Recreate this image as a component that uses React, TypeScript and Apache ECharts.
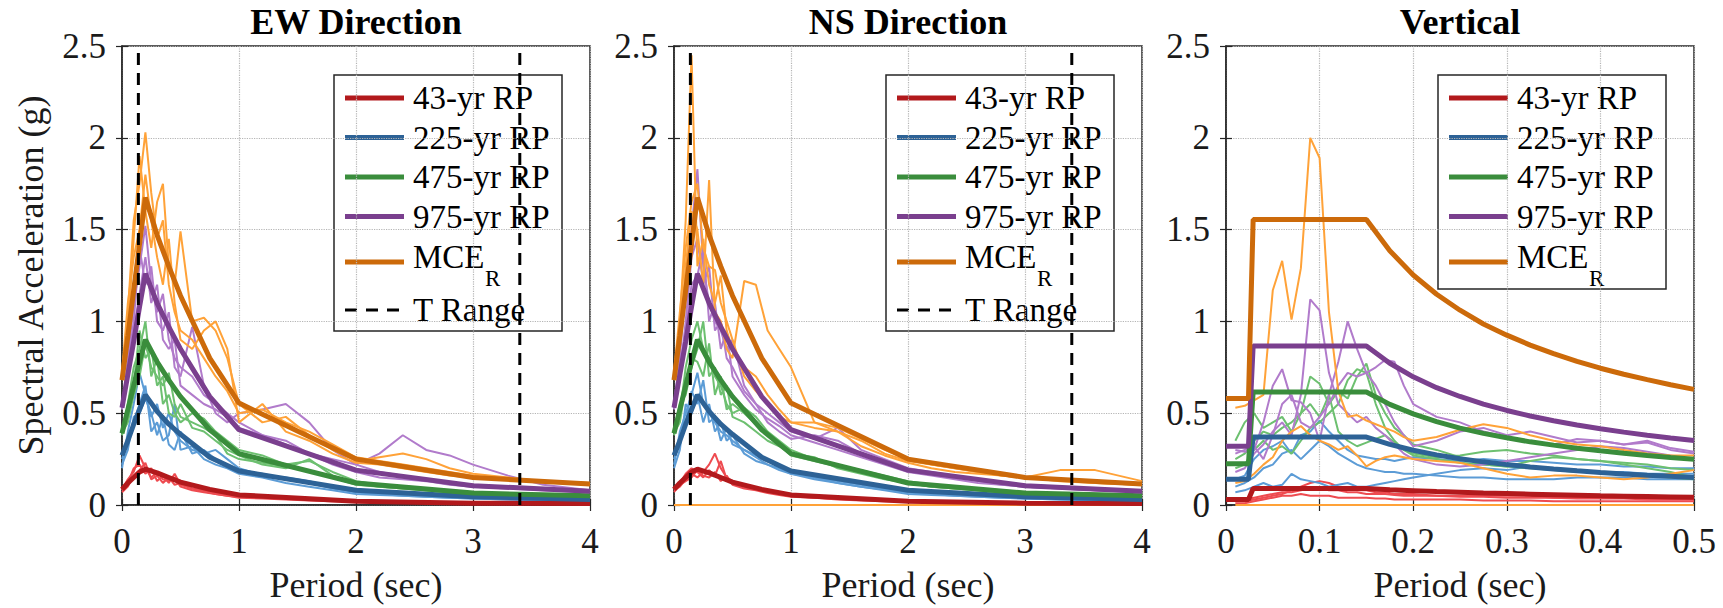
import React, { useEffect, useRef } from 'react';
import * as echarts from 'echarts';

// ---------------- data ----------------
const LEVEL_NAMES = ['43-yr RP', '225-yr RP', '475-yr RP', '975-yr RP', 'MCE_R'];
const PANEL_TITLES = ['EW Direction', 'NS Direction', 'Vertical'];
const T_RANGE = [0.14, 3.4];

// Target spectra, horizontal (EW and NS share the same targets)
const H_TARGET_T = [0, 0.05, 0.1, 0.15, 0.2, 0.3, 0.4, 0.5, 0.75, 1.0, 2.0, 3.0, 4.0];
const H_TARGET_43 = [0.085, 0.12, 0.15, 0.18, 0.195, 0.175, 0.15, 0.125, 0.085, 0.055, 0.02, 0.01, 0.008];
const H_TARGET_225 = [0.27, 0.35, 0.44, 0.52, 0.6, 0.51, 0.44, 0.385, 0.26, 0.185, 0.08, 0.045, 0.03];
const H_TARGET_475 = [0.39, 0.52, 0.65, 0.78, 0.9, 0.78, 0.68, 0.59, 0.41, 0.28, 0.12, 0.065, 0.05];
const H_TARGET_975 = [0.53, 0.71, 0.89, 1.08, 1.26, 1.1, 0.97, 0.85, 0.59, 0.41, 0.19, 0.105, 0.075];
const H_TARGET_MCE = [0.68, 0.92, 1.17, 1.42, 1.675, 1.47, 1.3, 1.14, 0.8, 0.555, 0.25, 0.15, 0.115];

// Target spectra, vertical
const V_TARGET_T = [0, 0.024, 0.029, 0.15, 0.175, 0.2, 0.225, 0.25, 0.275, 0.3, 0.325, 0.35, 0.375, 0.4, 0.425, 0.45, 0.475, 0.5];
const V_TARGET_43 = [0.03, 0.03, 0.09, 0.09, 0.083, 0.078, 0.073, 0.069, 0.065, 0.062, 0.059, 0.056, 0.053, 0.05, 0.048, 0.046, 0.044, 0.042];
const V_TARGET_225 = [0.14, 0.14, 0.37, 0.37, 0.33, 0.298, 0.273, 0.252, 0.235, 0.22, 0.207, 0.196, 0.186, 0.177, 0.169, 0.162, 0.156, 0.15];
const V_TARGET_475 = [0.225, 0.225, 0.615, 0.615, 0.548, 0.496, 0.454, 0.419, 0.39, 0.366, 0.344, 0.326, 0.309, 0.295, 0.282, 0.27, 0.259, 0.249];
const V_TARGET_975 = [0.32, 0.32, 0.866, 0.866, 0.772, 0.698, 0.639, 0.591, 0.549, 0.515, 0.485, 0.459, 0.436, 0.415, 0.397, 0.38, 0.365, 0.351];
const V_TARGET_MCE = [0.58, 0.58, 1.555, 1.555, 1.385, 1.253, 1.148, 1.061, 0.986, 0.925, 0.871, 0.824, 0.782, 0.745, 0.712, 0.683, 0.655, 0.63];

// Record periods
const H_REC_T = [0, 0.05, 0.1, 0.15, 0.2, 0.25, 0.3, 0.35, 0.4, 0.45, 0.5, 0.6, 0.7, 0.8, 0.9, 1.0, 1.2, 1.4, 1.6, 1.8, 2.0, 2.2, 2.4, 2.6, 2.8, 3.0, 3.3, 3.6, 4.0];
const V_REC_T = [0.01, 0.02, 0.03, 0.04, 0.05, 0.06, 0.07, 0.08, 0.09, 0.1, 0.11, 0.12, 0.13, 0.14, 0.15, 0.16, 0.17, 0.18, 0.19, 0.2, 0.225, 0.25, 0.275, 0.3, 0.325, 0.35, 0.375, 0.4, 0.425, 0.45, 0.475, 0.5];

// EW records
const EW_REC_43 = [
  [0.08, 0.14, 0.18, 0.27, 0.2, 0.15, 0.18, 0.14, 0.13, 0.15, 0.1, 0.08, 0.07, 0.06, 0.05, 0.045, 0.04, 0.035, 0.03, 0.025, 0.02, 0.018, 0.015, 0.013, 0.012, 0.01, 0.01, 0.008, 0.008],
  [0.09, 0.12, 0.2, 0.22, 0.17, 0.2, 0.13, 0.16, 0.12, 0.17, 0.11, 0.09, 0.08, 0.065, 0.055, 0.05, 0.04, 0.035, 0.03, 0.025, 0.02, 0.017, 0.015, 0.013, 0.012, 0.01, 0.009, 0.008, 0.007],
  [0.07, 0.1, 0.16, 0.19, 0.23, 0.14, 0.16, 0.12, 0.15, 0.11, 0.12, 0.09, 0.075, 0.06, 0.05, 0.04, 0.035, 0.03, 0.025, 0.02, 0.018, 0.015, 0.013, 0.012, 0.01, 0.009, 0.008, 0.007, 0.006],
];
const EW_REC_225 = [
  [0.2, 0.4, 0.55, 0.72, 0.6, 0.48, 0.55, 0.42, 0.5, 0.4, 0.35, 0.3, 0.28, 0.3, 0.25, 0.2, 0.16, 0.15, 0.13, 0.1, 0.07, 0.06, 0.05, 0.045, 0.04, 0.035, 0.03, 0.03, 0.025],
  [0.25, 0.35, 0.45, 0.55, 0.65, 0.4, 0.45, 0.35, 0.38, 0.55, 0.3, 0.32, 0.25, 0.22, 0.2, 0.17, 0.15, 0.12, 0.1, 0.08, 0.06, 0.055, 0.05, 0.045, 0.04, 0.035, 0.03, 0.025, 0.025],
  [0.22, 0.3, 0.48, 0.5, 0.58, 0.5, 0.38, 0.48, 0.33, 0.3, 0.4, 0.28, 0.3, 0.25, 0.22, 0.19, 0.17, 0.14, 0.12, 0.09, 0.07, 0.065, 0.06, 0.05, 0.045, 0.04, 0.035, 0.03, 0.03],
];
const EW_REC_475 = [
  [0.38, 0.55, 0.75, 0.85, 1.0, 0.7, 0.8, 0.55, 0.6, 0.5, 0.45, 0.5, 0.47, 0.4, 0.35, 0.3, 0.27, 0.22, 0.24, 0.18, 0.13, 0.11, 0.1, 0.09, 0.08, 0.07, 0.06, 0.05, 0.05],
  [0.4, 0.5, 0.65, 0.95, 0.8, 0.85, 0.65, 0.7, 0.5, 0.48, 0.55, 0.42, 0.4, 0.35, 0.3, 0.27, 0.22, 0.2, 0.25, 0.16, 0.12, 0.1, 0.09, 0.08, 0.07, 0.065, 0.06, 0.055, 0.05],
  [0.39, 0.45, 0.6, 0.7, 0.88, 0.75, 0.7, 0.65, 0.72, 0.55, 0.48, 0.45, 0.42, 0.38, 0.28, 0.25, 0.23, 0.21, 0.18, 0.15, 0.11, 0.1, 0.09, 0.08, 0.07, 0.06, 0.055, 0.05, 0.045],
];
const EW_REC_975 = [
  [0.52, 0.8, 1.1, 1.3, 1.52, 1.2, 1.05, 1.15, 0.9, 0.8, 0.75, 0.7, 0.6, 0.55, 0.5, 0.45, 0.38, 0.33, 0.28, 0.25, 0.22, 0.28, 0.38, 0.3, 0.27, 0.22, 0.16, 0.11, 0.08],
  [0.55, 0.75, 1.0, 1.4, 1.2, 1.3, 1.0, 0.95, 1.05, 0.75, 0.7, 0.97, 0.65, 0.5, 0.45, 0.5, 0.52, 0.55, 0.45, 0.3, 0.22, 0.18, 0.16, 0.14, 0.12, 0.11, 0.1, 0.09, 0.08],
  [0.53, 0.7, 0.95, 1.15, 1.35, 1.1, 1.2, 0.9, 0.85, 0.9, 0.65, 0.6, 0.55, 0.52, 0.48, 0.42, 0.38, 0.35, 0.28, 0.22, 0.18, 0.15, 0.14, 0.13, 0.11, 0.1, 0.09, 0.08, 0.07],
];
const EW_REC_MCE = [
  [0.7, 1.05, 1.55, 1.75, 2.03, 1.7, 1.45, 1.55, 1.2, 1.05, 0.95, 0.9, 0.8, 0.7, 0.62, 0.5, 0.52, 0.45, 0.4, 0.33, 0.26, 0.24, 0.22, 0.2, 0.18, 0.16, 0.14, 0.13, 0.12],
  [0.68, 0.95, 1.45, 1.9, 1.6, 1.4, 1.65, 1.75, 1.3, 1.2, 1.49, 1.0, 1.02, 0.95, 0.8, 0.55, 0.45, 0.48, 0.38, 0.3, 0.24, 0.26, 0.28, 0.25, 0.2, 0.17, 0.15, 0.13, 0.12],
  [0.72, 1.1, 1.35, 1.5, 1.8, 1.55, 1.35, 1.2, 1.45, 1.1, 0.9, 0.85, 0.95, 1.0, 0.85, 0.45, 0.55, 0.4, 0.35, 0.28, 0.23, 0.22, 0.2, 0.18, 0.16, 0.15, 0.14, 0.13, 0.11],
];

// NS records
const NS_REC_43 = [
  [0.08, 0.1, 0.14, 0.17, 0.15, 0.18, 0.22, 0.28, 0.2, 0.15, 0.13, 0.1, 0.085, 0.07, 0.06, 0.05, 0.045, 0.04, 0.03, 0.025, 0.02, 0.018, 0.015, 0.013, 0.012, 0.01, 0.009, 0.008, 0.007],
  [0.09, 0.12, 0.17, 0.2, 0.18, 0.15, 0.19, 0.16, 0.24, 0.14, 0.12, 0.1, 0.09, 0.075, 0.06, 0.05, 0.04, 0.035, 0.03, 0.025, 0.02, 0.017, 0.015, 0.013, 0.012, 0.01, 0.009, 0.008, 0.007],
  [0.07, 0.11, 0.13, 0.15, 0.19, 0.16, 0.15, 0.18, 0.13, 0.16, 0.11, 0.09, 0.08, 0.065, 0.055, 0.045, 0.04, 0.03, 0.025, 0.02, 0.018, 0.015, 0.013, 0.012, 0.01, 0.009, 0.008, 0.007, 0.006],
];
const NS_REC_225 = [
  [0.22, 0.4, 0.5, 0.6, 0.72, 0.55, 0.5, 0.45, 0.4, 0.38, 0.35, 0.3, 0.27, 0.24, 0.21, 0.18, 0.15, 0.13, 0.11, 0.09, 0.07, 0.06, 0.05, 0.045, 0.04, 0.035, 0.03, 0.03, 0.025],
  [0.25, 0.35, 0.45, 0.62, 0.55, 0.68, 0.45, 0.48, 0.35, 0.42, 0.33, 0.3, 0.26, 0.22, 0.19, 0.17, 0.15, 0.12, 0.1, 0.08, 0.06, 0.055, 0.05, 0.045, 0.04, 0.035, 0.03, 0.025, 0.025],
  [0.2, 0.3, 0.55, 0.5, 0.6, 0.45, 0.55, 0.4, 0.45, 0.35, 0.38, 0.28, 0.24, 0.22, 0.2, 0.17, 0.14, 0.12, 0.1, 0.085, 0.07, 0.06, 0.055, 0.05, 0.045, 0.04, 0.035, 0.03, 0.03],
];
const NS_REC_475 = [
  [0.38, 0.5, 0.75, 0.9, 1.0, 0.85, 0.8, 0.7, 0.65, 0.55, 0.5, 0.53, 0.48, 0.4, 0.35, 0.3, 0.25, 0.22, 0.19, 0.16, 0.13, 0.11, 0.1, 0.09, 0.08, 0.07, 0.06, 0.055, 0.05],
  [0.4, 0.55, 0.6, 0.75, 0.85, 1.0, 0.7, 0.75, 0.6, 0.65, 0.48, 0.45, 0.4, 0.35, 0.32, 0.28, 0.26, 0.2, 0.17, 0.14, 0.12, 0.1, 0.09, 0.08, 0.07, 0.065, 0.06, 0.05, 0.05],
  [0.39, 0.45, 0.65, 0.8, 0.78, 0.7, 0.88, 0.6, 0.7, 0.52, 0.55, 0.5, 0.44, 0.38, 0.33, 0.27, 0.24, 0.21, 0.18, 0.15, 0.12, 0.1, 0.09, 0.08, 0.07, 0.06, 0.055, 0.05, 0.045],
];
const NS_REC_975 = [
  [0.55, 0.8, 1.2, 1.5, 1.83, 1.3, 1.1, 1.0, 0.95, 0.85, 0.9, 0.65, 0.55, 0.5, 0.45, 0.4, 0.36, 0.42, 0.3, 0.25, 0.2, 0.18, 0.16, 0.14, 0.12, 0.11, 0.1, 0.09, 0.08],
  [0.52, 0.7, 1.0, 1.35, 1.45, 1.2, 1.3, 0.95, 1.0, 0.8, 0.75, 0.62, 0.55, 0.45, 0.4, 0.36, 0.38, 0.35, 0.28, 0.23, 0.19, 0.17, 0.15, 0.13, 0.11, 0.1, 0.09, 0.08, 0.075],
  [0.53, 0.75, 0.95, 1.2, 1.25, 1.4, 1.0, 1.1, 0.85, 0.95, 0.7, 0.6, 0.52, 0.47, 0.43, 0.38, 0.34, 0.3, 0.26, 0.22, 0.18, 0.16, 0.14, 0.12, 0.11, 0.1, 0.09, 0.08, 0.07],
];
const NS_REC_MCE = [
  [0.7, 1.0, 1.55, 2.45, 1.3, 1.45, 1.2, 1.1, 1.25, 0.95, 0.85, 0.75, 0.7, 0.6, 0.52, 0.45, 0.42, 0.4, 0.35, 0.28, 0.24, 0.22, 0.2, 0.18, 0.16, 0.15, 0.14, 0.12, 0.11],
  [0.68, 0.9, 1.3, 1.6, 1.5, 1.2, 1.77, 1.05, 1.0, 0.85, 0.8, 1.22, 1.2, 0.95, 0.85, 0.75, 0.45, 0.4, 0.32, 0.27, 0.23, 0.2, 0.18, 0.17, 0.16, 0.15, 0.19, 0.19, 0.13],
  [0.72, 1.05, 1.4, 1.65, 1.75, 1.4, 1.3, 1.28, 1.1, 1.0, 0.9, 0.7, 0.62, 0.55, 0.48, 0.45, 0.45, 0.42, 0.36, 0.3, 0.25, 0.22, 0.2, 0.18, 0.16, 0.15, 0.13, 0.12, 0.11],
  [0, 0, 0, 0, 0, 0, 0, 0, 0, 0, 0, 0, 0, 0, 0, 0, 0, 0, 0, 0, 0, 0, 0, 0, 0, 0, 0, 0, 0],
];

// Vertical records
const V_REC_43 = [
  [0.02, 0.02, 0.03, 0.04, 0.05, 0.06, 0.08, 0.1, 0.12, 0.13, 0.12, 0.1, 0.09, 0.08, 0.08, 0.07, 0.07, 0.06, 0.06, 0.06, 0.05, 0.05, 0.05, 0.05, 0.05, 0.04, 0.04, 0.04, 0.04, 0.04, 0.04, 0.04],
  [0.01, 0.01, 0.02, 0.03, 0.04, 0.05, 0.05, 0.06, 0.05, 0.05, 0.05, 0.04, 0.04, 0.04, 0.04, 0.035, 0.035, 0.03, 0.03, 0.03, 0.03, 0.03, 0.025, 0.025, 0.025, 0.02, 0.02, 0.02, 0.02, 0.02, 0.02, 0.02],
  [0.03, 0.03, 0.04, 0.05, 0.06, 0.07, 0.07, 0.08, 0.09, 0.09, 0.08, 0.08, 0.07, 0.07, 0.06, 0.06, 0.06, 0.055, 0.05, 0.05, 0.05, 0.045, 0.045, 0.04, 0.04, 0.04, 0.035, 0.035, 0.035, 0.03, 0.03, 0.03],
];
const V_REC_225 = [
  [0.07, 0.08, 0.1, 0.12, 0.1, 0.11, 0.17, 0.14, 0.13, 0.12, 0.1, 0.11, 0.12, 0.1, 0.1, 0.11, 0.12, 0.13, 0.14, 0.15, 0.17, 0.19, 0.2, 0.19, 0.21, 0.2, 0.19, 0.18, 0.18, 0.17, 0.17, 0.17],
  [0.14, 0.16, 0.25, 0.3, 0.32, 0.35, 0.28, 0.38, 0.4, 0.46, 0.4, 0.35, 0.3, 0.27, 0.26, 0.25, 0.25, 0.24, 0.25, 0.26, 0.25, 0.24, 0.25, 0.24, 0.24, 0.23, 0.22, 0.22, 0.21, 0.21, 0.2, 0.2],
  [0.1, 0.12, 0.15, 0.2, 0.22, 0.28, 0.3, 0.25, 0.3, 0.35, 0.32, 0.28, 0.25, 0.22, 0.2, 0.19, 0.18, 0.18, 0.17, 0.17, 0.16, 0.15, 0.15, 0.14, 0.14, 0.14, 0.15, 0.15, 0.15, 0.14, 0.14, 0.14],
];
const V_REC_475 = [
  [0.35, 0.45, 0.5, 0.42, 0.45, 0.48, 0.4, 0.5, 0.7, 0.66, 0.55, 0.62, 0.58, 0.7, 0.77, 0.6, 0.5, 0.42, 0.38, 0.33, 0.3, 0.26, 0.22, 0.21, 0.24, 0.26, 0.25, 0.24, 0.22, 0.2, 0.18, 0.15],
  [0.25, 0.28, 0.35, 0.4, 0.38, 0.42, 0.45, 0.5, 0.55, 0.48, 0.6, 0.4, 0.35, 0.32, 0.34, 0.36, 0.38, 0.34, 0.3, 0.28, 0.26, 0.27, 0.29, 0.3, 0.28, 0.27, 0.25, 0.24, 0.23, 0.22, 0.2, 0.19],
  [0.2, 0.22, 0.3, 0.35, 0.3, 0.32, 0.28, 0.35, 0.42, 0.45, 0.5, 0.55, 0.68, 0.74, 0.72, 0.55, 0.42, 0.35, 0.3, 0.27, 0.25, 0.23, 0.22, 0.21, 0.2, 0.19, 0.18, 0.18, 0.17, 0.16, 0.15, 0.14],
];
const V_REC_975 = [
  [0.18, 0.2, 0.28, 0.33, 0.4, 0.45, 0.38, 0.6, 1.12, 1.06, 0.72, 0.55, 0.5, 0.45, 0.48, 0.42, 0.38, 0.33, 0.28, 0.25, 0.22, 0.21, 0.22, 0.24, 0.26, 0.28, 0.3, 0.32, 0.31, 0.29, 0.27, 0.25],
  [0.3, 0.29, 0.3, 0.45, 0.65, 0.74, 0.57, 0.56, 0.5, 0.35, 0.6, 0.78, 1.0, 0.85, 0.72, 0.65, 0.55, 0.45, 0.38, 0.32, 0.35, 0.4, 0.42, 0.38, 0.4, 0.37, 0.34, 0.35, 0.33, 0.34, 0.3, 0.28],
  [0.28, 0.3, 0.32, 0.25, 0.38, 0.55, 0.6, 0.45, 0.42, 0.48, 0.55, 0.65, 0.72, 0.7, 0.72, 0.75, 0.79, 0.78, 0.65, 0.55, 0.48, 0.45, 0.4, 0.37, 0.34, 0.33, 0.36, 0.35, 0.33, 0.35, 0.31, 0.29],
];
const V_REC_MCE = [
  [0.53, 0.54, 0.57, 0.6, 1.17, 1.33, 1.01, 1.29, 2.0, 1.89, 1.05, 0.62, 0.48, 0.49, 0.46, 0.44, 0.42, 0.4, 0.37, 0.35, 0.37, 0.41, 0.44, 0.42, 0.38, 0.35, 0.33, 0.32, 0.3, 0.28, 0.27, 0.27],
  [0.12, 0.13, 0.17, 0.22, 0.26, 0.35, 0.4, 0.43, 0.38, 0.35, 0.33, 0.3, 0.32, 0.27, 0.21, 0.24, 0.26, 0.27, 0.26, 0.25, 0.24, 0.23, 0.2, 0.17, 0.15, 0.16, 0.16, 0.15, 0.14, 0.15, 0.17, 0.19],
  [0, 0, 0, 0, 0, 0, 0, 0, 0, 0, 0, 0, 0, 0, 0, 0, 0, 0, 0, 0, 0, 0, 0, 0, 0, 0, 0, 0, 0, 0, 0, 0],
];

// ---------------- styles & layout ----------------
const SERIF = 'Liberation Serif';
const AXIS_COLOR = '#262626';
const TEXT_COLOR = '#1a1a1a';
const THICK = ['#B2191C', '#2D6296', '#3A8D3C', '#7A3F8E', '#CC6A0A'];
const THIN = ['#EE4B50', '#5C9CD6', '#6DC070', '#B17BCB', '#FFA238'];

const GRID_LEFT = 122;
const GRID_STEP = 552;
const GRID_W = 468;
const GRID_TOP = 46;
const GRID_H = 462;

const LEG_DX = 212;
const LEG_TOP = 75;
const LEG_W = 228;
const LEG_ROWS = [23, 62.5, 102, 141.5, 182, 235];

function pairs(t: number[], v: number[]) {
  return t.map((x, i) => [x, v[i]]);
}

function legendGraphic(pi: number, withTRange: boolean) {
  const x0 = GRID_LEFT + pi * GRID_STEP + LEG_DX;
  const names = withTRange ? [...LEVEL_NAMES, 'T Range'] : LEVEL_NAMES;
  const height = withTRange ? 256 : 214;
  const children: any[] = [
    {
      type: 'rect',
      shape: { x: x0, y: LEG_TOP, width: LEG_W, height },
      style: { fill: '#fff', stroke: AXIS_COLOR, lineWidth: 1.5 },
    },
  ];
  names.forEach((name, i) => {
    const y = LEG_TOP + LEG_ROWS[i];
    const isT = name === 'T Range';
    const isMce = name === 'MCE_R';
    const lineY = isMce ? y + 5 : y;
    children.push({
      type: 'line',
      shape: { x1: x0 + 11, y1: lineY, x2: x0 + 70, y2: lineY },
      style: isT
        ? { stroke: '#000', lineWidth: 3, lineDash: [12, 9] }
        : { stroke: THICK[i], lineWidth: 5 },
    });
    if (isMce) {
      children.push({
        type: 'text', x: x0 + 79, y,
        style: { text: 'MCE', font: '33px ' + SERIF, fill: '#000', textAlign: 'left', textVerticalAlign: 'middle' },
      });
      children.push({
        type: 'text', x: x0 + 151, y: y + 21,
        style: { text: 'R', font: '23px ' + SERIF, fill: '#000', textAlign: 'left', textVerticalAlign: 'middle' },
      });
    } else {
      children.push({
        type: 'text', x: x0 + 79, y,
        style: { text: name, font: '33px ' + SERIF, fill: '#000', textAlign: 'left', textVerticalAlign: 'middle' },
      });
    }
  });
  return { type: 'group', z: 100, silent: true, children };
}

function buildOption() {
  const panels = [
    { recT: H_REC_T, recs: [EW_REC_43, EW_REC_225, EW_REC_475, EW_REC_975, EW_REC_MCE], tgtT: H_TARGET_T, tgts: [H_TARGET_43, H_TARGET_225, H_TARGET_475, H_TARGET_975, H_TARGET_MCE], xMax: 4, xInt: 1, tRange: true },
    { recT: H_REC_T, recs: [NS_REC_43, NS_REC_225, NS_REC_475, NS_REC_975, NS_REC_MCE], tgtT: H_TARGET_T, tgts: [H_TARGET_43, H_TARGET_225, H_TARGET_475, H_TARGET_975, H_TARGET_MCE], xMax: 4, xInt: 1, tRange: true },
    { recT: V_REC_T, recs: [V_REC_43, V_REC_225, V_REC_475, V_REC_975, V_REC_MCE], tgtT: V_TARGET_T, tgts: [V_TARGET_43, V_TARGET_225, V_TARGET_475, V_TARGET_975, V_TARGET_MCE], xMax: 0.5, xInt: 0.1, tRange: false },
  ];
  const grid: any[] = [];
  const xAxis: any[] = [];
  const yAxis: any[] = [];
  const series: any[] = [];
  const title: any[] = [];
  const graphic: any[] = [];

  const tickStyle = { show: true, inside: true, length: 6, lineStyle: { color: AXIS_COLOR, width: 1.2 } };
  const gridLine = { show: true, lineStyle: { color: '#b5b5b5', type: 'dotted', width: 1.2 } };

  panels.forEach((p, pi) => {
    const left = GRID_LEFT + pi * GRID_STEP;
    grid.push({ left, top: GRID_TOP, width: GRID_W, height: GRID_H, show: true, borderColor: AXIS_COLOR, borderWidth: 1.5, backgroundColor: '#fff' });
    xAxis.push({
      type: 'value', gridIndex: pi, min: 0, max: p.xMax, interval: p.xInt,
      name: 'Period (sec)', nameLocation: 'middle', nameGap: 62,
      nameTextStyle: { fontFamily: SERIF, fontSize: 36, color: TEXT_COLOR },
      axisLine: { show: true, lineStyle: { color: AXIS_COLOR, width: 1.5 } },
      axisTick: tickStyle,
      axisLabel: { fontFamily: SERIF, fontSize: 35, color: TEXT_COLOR, margin: 19 },
      splitLine: gridLine,
    });
    yAxis.push({
      type: 'value', gridIndex: pi, min: 0, max: 2.5, interval: 0.5,
      name: pi === 0 ? 'Spectral Acceleration (g)' : '', nameLocation: 'middle', nameGap: 73,
      nameTextStyle: { fontFamily: SERIF, fontSize: 36, color: TEXT_COLOR },
      axisLine: { show: true, lineStyle: { color: AXIS_COLOR, width: 1.5 } },
      axisTick: tickStyle,
      axisLabel: { fontFamily: SERIF, fontSize: 35, color: TEXT_COLOR, margin: 16 },
      splitLine: gridLine,
    });
    title.push({
      text: PANEL_TITLES[pi], left: left + GRID_W / 2, top: 4, textAlign: 'center', padding: 0,
      textStyle: { fontFamily: SERIF, fontSize: 36, fontWeight: 'bold', color: '#000' },
    });

    p.recs.forEach((recList, li) => {
      recList.forEach((rec, k) => {
        series.push({
          type: 'line', name: `rec-${pi}-${li}-${k}`, xAxisIndex: pi, yAxisIndex: pi,
          data: pairs(p.recT, rec), symbol: 'none', silent: true, z: 2,
          lineStyle: { color: THIN[li], width: 2 }, itemStyle: { color: THIN[li] },
        });
      });
    });
    p.tgts.forEach((tgt, li) => {
      series.push({
        type: 'line', name: LEVEL_NAMES[li], xAxisIndex: pi, yAxisIndex: pi,
        data: pairs(p.tgtT, tgt), symbol: 'none', silent: true, z: 3,
        lineStyle: { color: THICK[li], width: 5 }, itemStyle: { color: THICK[li] },
      });
    });
    if (p.tRange) {
      T_RANGE.forEach((t) => {
        series.push({
          type: 'line', name: 'T Range', xAxisIndex: pi, yAxisIndex: pi,
          data: [[t, 0], [t, 2.5]], symbol: 'none', silent: true, z: 4,
          lineStyle: { color: '#000', width: 3, type: [12, 8] }, itemStyle: { color: '#000' },
        });
      });
    }
    graphic.push(legendGraphic(pi, p.tRange));
  });

  panels.forEach((p, pi) => {
    xAxis.push({
      type: 'value', gridIndex: pi, position: 'top', min: 0, max: p.xMax, interval: p.xInt,
      axisLine: { show: false }, axisTick: tickStyle, axisLabel: { show: false }, splitLine: { show: false },
    });
    yAxis.push({
      type: 'value', gridIndex: pi, position: 'right', min: 0, max: 2.5, interval: 0.5,
      axisLine: { show: false }, axisTick: tickStyle, axisLabel: { show: false }, splitLine: { show: false },
    });
  });

  return {
    animation: false, backgroundColor: '#fff',
    textStyle: { fontFamily: SERIF },
    grid, xAxis, yAxis, series, title, graphic,
  };
}

export default function App() {
  const ref = useRef<HTMLDivElement>(null);
  useEffect(() => {
    if (!ref.current) return;
    const chart = echarts.init(ref.current, undefined, { renderer: 'svg' });
    chart.setOption(buildOption() as any);
    return () => chart.dispose();
  }, []);
  return (
    <div
      ref={ref}
      style={{ position: 'fixed', left: 0, top: 0, width: 1723, height: 608, background: '#fff', fontFamily: SERIF }}
    />
  );
}
